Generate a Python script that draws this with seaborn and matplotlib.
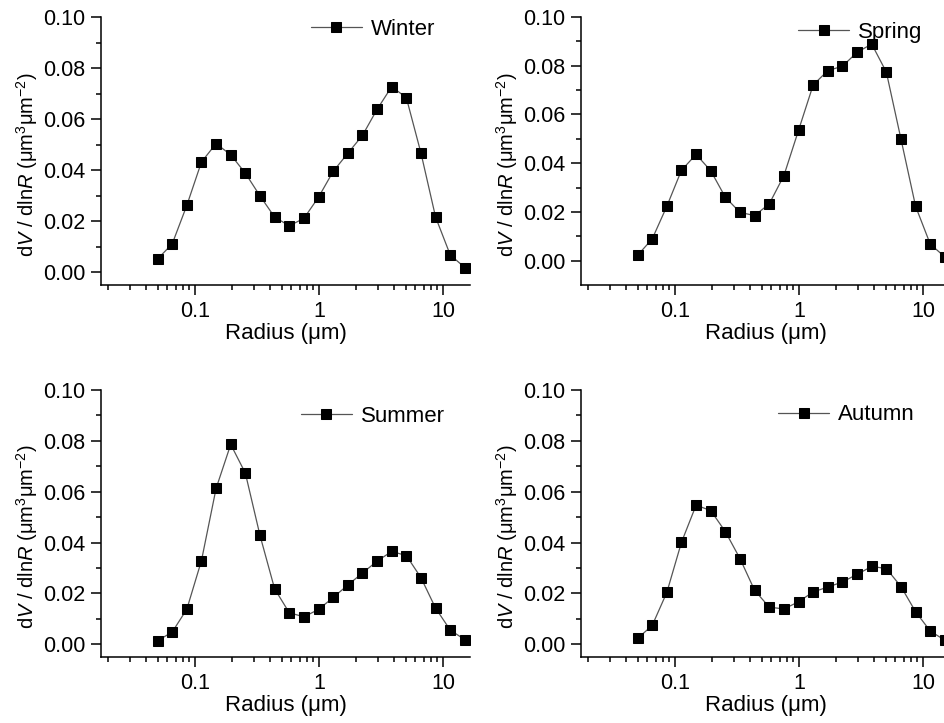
import numpy as np
import pandas as pd
import seaborn as sns
import matplotlib.pyplot as plt
from matplotlib import ticker

# AERONET size bins (um)
radius = [0.05, 0.065604, 0.086077, 0.112939, 0.148184, 0.194429, 0.255105,
          0.334716, 0.439173, 0.576227, 0.756052, 0.991996, 1.301571, 1.707757,
          2.240702, 2.939966, 3.857452, 5.061260, 6.640745, 8.713145, 11.432287, 15.0]

winter = [0.0052, 0.0111, 0.0262, 0.0432, 0.0504, 0.0460, 0.0388, 0.0299, 0.0216, 0.0182, 0.0211,
          0.0294, 0.0395, 0.0466, 0.0536, 0.0638, 0.0727, 0.0684, 0.0467, 0.0216, 0.0068, 0.0018]
spring = [0.0022, 0.0089, 0.0223, 0.0371, 0.0436, 0.0369, 0.0260, 0.0198, 0.0185, 0.0233, 0.0349,
          0.0535, 0.0721, 0.0780, 0.0798, 0.0855, 0.0889, 0.0774, 0.0499, 0.0223, 0.0068, 0.0015]
summer = [0.0014, 0.0048, 0.0138, 0.0329, 0.0613, 0.0786, 0.0673, 0.0428, 0.0218, 0.0124, 0.0108,
          0.0137, 0.0184, 0.0233, 0.0280, 0.0327, 0.0365, 0.0349, 0.0262, 0.0142, 0.0056, 0.0018]
autumn = [0.0023, 0.0074, 0.0204, 0.0401, 0.0547, 0.0526, 0.0443, 0.0337, 0.0212, 0.0146, 0.0139,
          0.0167, 0.0206, 0.0225, 0.0245, 0.0275, 0.0306, 0.0298, 0.0227, 0.0128, 0.0052, 0.0016]

seasons = ['Winter', 'Spring', 'Summer', 'Autumn']
ymins = [-0.005, -0.01, -0.005, -0.005]
yticks = [0.00, 0.02, 0.04, 0.06, 0.08, 0.10]

df = pd.DataFrame({'radius': radius, 'Winter': winter, 'Spring': spring,
                   'Summer': summer, 'Autumn': autumn})

sns.set_style('ticks')
plt.rcParams['font.family'] = ['Liberation Sans', 'DejaVu Sans']
plt.rcParams['mathtext.fontset'] = 'custom'
plt.rcParams['mathtext.rm'] = 'Liberation Sans'
plt.rcParams['mathtext.it'] = 'Liberation Sans:italic'
plt.rcParams['text.color'] = 'black'
plt.rcParams['axes.labelcolor'] = 'black'
plt.rcParams['xtick.color'] = 'black'
plt.rcParams['ytick.color'] = 'black'

fig = plt.figure(figsize=(9.44, 7.23), dpi=100)
W, H = 944, 723
# axes boxes in pixels: left, bottom (from top), width, height
boxes = [(101, 285, 369, 268), (581, 285, 369, 268),
         (101, 657, 369, 267), (581, 657, 369, 267)]
leg_anchor = [(0.93, 1.026), (0.95, 1.016), (0.956, 0.975), (0.929, 0.979)]

for i, season in enumerate(seasons):
    l, b, w, h = boxes[i]
    ax = fig.add_axes([l / W, 1 - b / H, w / W, h / H])
    sns.lineplot(data=df, x='radius', y=season, ax=ax, color='#555555', lw=0.9,
                 marker='s', markersize=7.2, markerfacecolor='black',
                 markeredgecolor='black', label=season)
    ax.set_xscale('log')
    ax.set_xlim(0.0175, 16.5)
    ax.set_ylim(ymins[i], 0.10)
    ax.set_xticks([0.1, 1, 10])
    ax.set_xticklabels(['0.1', '1', '10'])
    ax.xaxis.set_minor_locator(ticker.LogLocator(base=10, subs=np.arange(2, 10)))
    ax.xaxis.set_minor_formatter(ticker.NullFormatter())
    ax.set_yticks(yticks)
    ax.set_yticklabels(['%.2f' % v for v in yticks])
    ax.set_yticks(np.arange(0.01, 0.1, 0.02), minor=True)
    sns.despine(ax=ax)
    ax.spines['left'].set_bounds(ymins[i], 0.10)
    ax.tick_params(which='major', direction='out', length=7.2, width=1.1,
                   labelsize=15.5, color='black', labelcolor='black', pad=4)
    ax.tick_params(which='minor', direction='out', length=3.6, width=1.1, color='black')
    for s in ['left', 'bottom']:
        ax.spines[s].set_color('black')
        ax.spines[s].set_linewidth(1.1)
    ax.set_xlabel('Radius (μm)', fontsize=16, labelpad=1, color='black')
    ax.set_ylabel(r'd$V$ / dln$R$ (μm$^{3}$μm$^{-2}$)', fontsize=14.5, color='black')
    ax.yaxis.set_label_coords(-0.165, 0.45)
    ax.legend(loc='upper right', bbox_to_anchor=leg_anchor[i], frameon=False,
              fontsize=16, handlelength=2.3, handletextpad=0.4, borderaxespad=0)

fig.savefig('out.png', dpi=100)
